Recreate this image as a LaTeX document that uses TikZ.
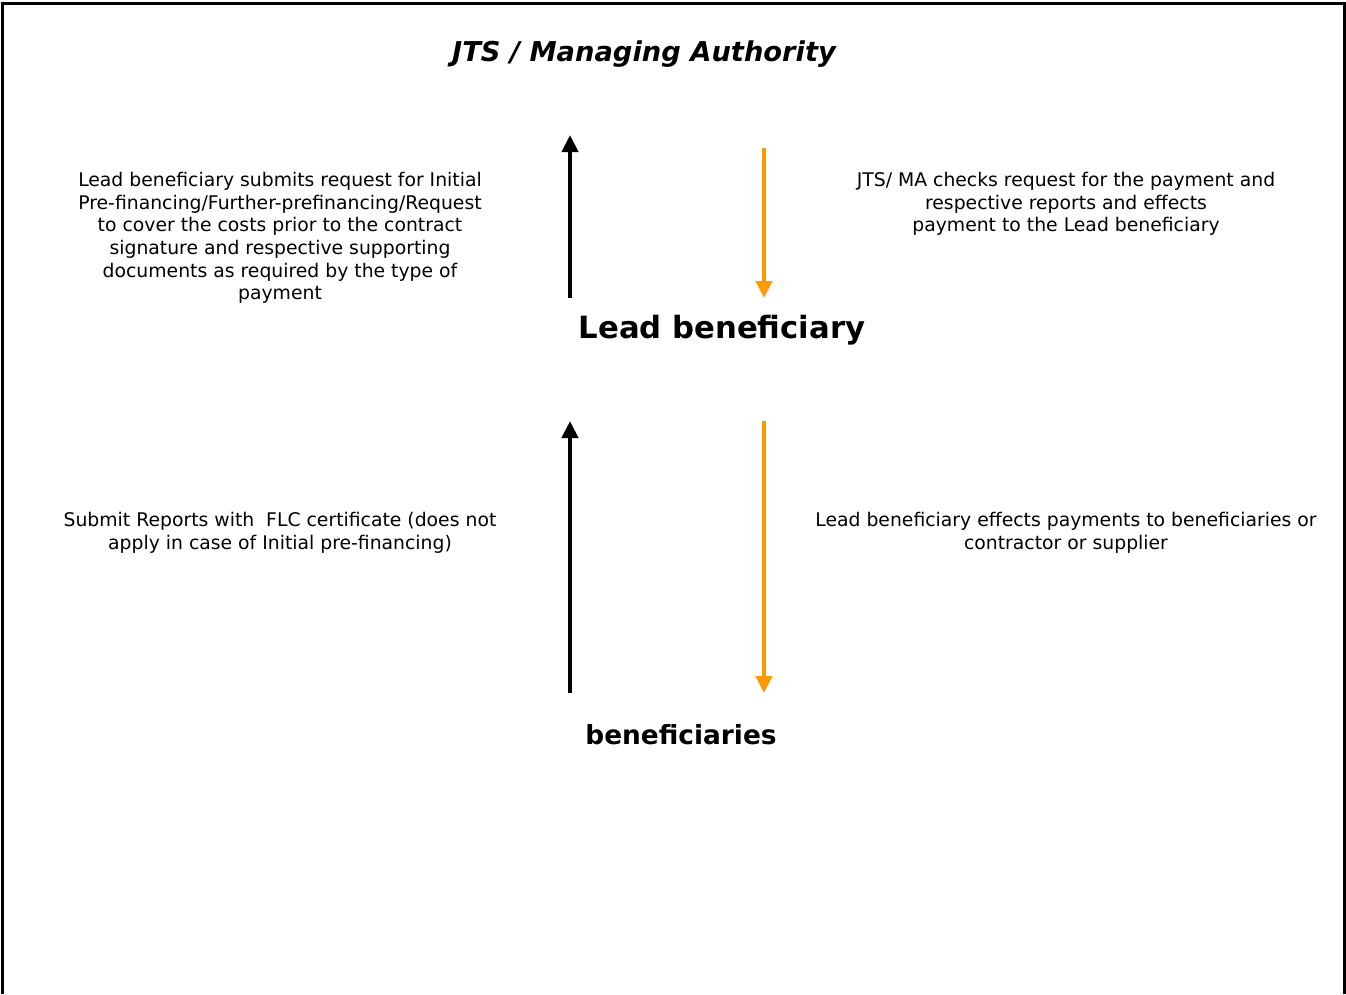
\documentclass[tikz,border=0pt]{standalone}
\usepackage{fontspec}
\setmainfont{DejaVu Sans}
\usetikzlibrary{arrows.meta}
\definecolor{payorange}{RGB}{255,153,0}
\begin{document}
\begin{tikzpicture}[x=1pt,y=-1pt,
  body/.style={align=center,inner sep=0pt,font=\fontsize{18.8}{22.7}\selectfont},
  flowup/.style={line width=4pt,black,-{Triangle[width=16pt,length=17pt]}},
  flowdown/.style={line width=4pt,payorange,-{Triangle[width=16pt,length=17pt]}}]
\useasboundingbox (0,0) rectangle (1346,994);
% page frame, open at the bottom
\draw[line width=3pt] (2,994) -- (2,3) -- (1344,3) -- (1344,994);

% levels
\node[inner sep=0pt,font=\fontsize{27.3}{32}\bfseries\itshape\selectfont] (ma) at (644,54) {JTS / Managing Authority};
\node[inner sep=0pt,font=\fontsize{30.7}{36}\bfseries\selectfont] (lead) at (722,330) {Lead beneficiary};
\node[inner sep=0pt,font=\fontsize{26.4}{31}\bfseries\selectfont] (ben) at (681,735) {beneficiaries};

% arrow ends
\coordinate (u1s) at (570,298);
\coordinate (u1e) at (570,135);
\coordinate (d1s) at (764,148);
\coordinate (d1e) at (764,298);
\coordinate (u2s) at (570,693);
\coordinate (u2e) at (570,421);
\coordinate (d2s) at (764,421);
\coordinate (d2e) at (764,693);

\draw[flowup] (u1s) -- (u1e);
\draw[flowdown] (d1s) -- (d1e);
\draw[flowup] (u2s) -- (u2e);
\draw[flowdown] (d2s) -- (d2e);

% descriptions
\node[body] (t1) at (280,238) {Lead beneficiary submits request for Initial\\Pre-financing/Further-prefinancing/Request\\to cover the costs prior to the contract\\signature and respective supporting\\documents as required by the type of\\payment};
\node[body] (t2) at (1066,204) {JTS/ MA checks request for the payment and\\respective reports and effects\\payment to the Lead beneficiary};
\node[body] (t3) at (280,533) {Submit Reports with\ \ FLC certificate (does not\\apply in case of Initial pre-financing)};
\node[body] (t4) at (1066,533) {Lead beneficiary effects payments to beneficiaries or\\contractor or supplier};
\end{tikzpicture}
\end{document}
